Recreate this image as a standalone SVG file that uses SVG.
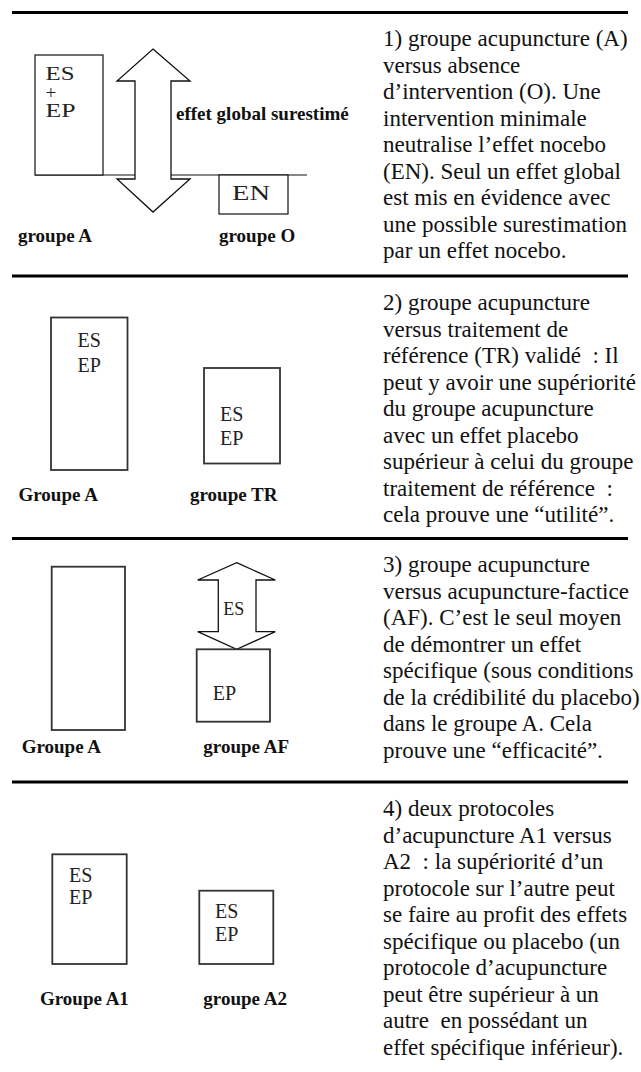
<svg xmlns="http://www.w3.org/2000/svg" width="641" height="1072" viewBox="0 0 641 1072">
<style>
.rule{stroke:#000;stroke-width:3;fill:none}
.box{fill:#fff;stroke:#333;stroke-width:1.8}
.box1{fill:#fff;stroke:#111;stroke-width:1.2}
.arrow{fill:#fff;stroke:#111;stroke-width:1.3;stroke-linejoin:miter}
.lbl{font-family:"Liberation Serif","Times New Roman",serif;font-weight:bold;font-size:19px;fill:#111}
.in{font-family:"Liberation Serif","Times New Roman",serif;font-size:20px;fill:#222}
.desc{font-family:"Liberation Serif","Times New Roman",serif;font-size:23px;fill:#111}
</style>
<rect width="641" height="1072" fill="#fff"/>
<g id="rules">
<line class="rule" x1="12" y1="12.5" x2="628" y2="12.5"/>
<line class="rule" x1="12" y1="276" x2="628" y2="276"/>
<line class="rule" x1="12" y1="538.5" x2="628" y2="538.5"/>
<line class="rule" x1="12" y1="782" x2="628" y2="782"/>
</g>
<g id="section1">
<line x1="35" y1="175" x2="307" y2="175" stroke="#111" stroke-width="1.2"/>
<g id="box-A1">
<rect class="box1" x="35" y="55" width="68" height="120"/>
<text class="in" x="45.5" y="80" style="font-size:19px" textLength="29" lengthAdjust="spacingAndGlyphs">ES</text>
<text class="in" x="45.5" y="98.5" style="font-size:19px">+</text>
<text class="in" x="45.5" y="117" style="font-size:19px" textLength="30" lengthAdjust="spacingAndGlyphs">EP</text>
</g>
<g id="box-EN">
<rect class="box1" x="219" y="175" width="69" height="39"/>
<text class="in" x="232" y="200" textLength="38" lengthAdjust="spacingAndGlyphs">EN</text>
</g>
<text class="lbl" x="176" y="120">effet global surestimé</text>
<text class="lbl" x="18" y="242">groupe A</text>
<text class="lbl" x="219" y="242">groupe O</text>
</g>
<g id="connectors">
<polygon class="arrow" points="153,49 190,81 171,81 171,179 190,179 153,212 117,179 135,179 135,81 117,81"/>
<polygon class="arrow" points="236.7,562.7 275.3,580 256,580 256,631.7 275.3,631.7 236.7,649.3 197.7,631.7 218.3,631.7 218.3,580 197.7,580"/>
</g>
<g id="section2">
<g id="box-A2">
<rect class="box" x="51" y="317.5" width="76.5" height="152.5"/>
<text class="in" x="77.5" y="347">ES</text>
<text class="in" x="77.5" y="371.5">EP</text>
</g>
<g id="box-TR">
<rect class="box" x="204" y="368" width="76" height="95.5"/>
<text class="in" x="220" y="421">ES</text>
<text class="in" x="220" y="445">EP</text>
</g>
<text class="lbl" x="18.5" y="501">Groupe A</text>
<text class="lbl" x="190" y="501">groupe TR</text>
</g>
<g id="section3">
<g id="box-A3">
<rect class="box" x="51.7" y="566.7" width="73.3" height="163.3"/>
</g>
<text class="in" x="223.3" y="615" style="font-size:18px">ES</text>
<g id="box-AF">
<rect class="box" x="196.7" y="649.3" width="73.3" height="72.4"/>
<text class="in" x="212.7" y="700">EP</text>
</g>
<text class="lbl" x="21.7" y="753">Groupe A</text>
<text class="lbl" x="203.3" y="753">groupe AF</text>
</g>
<g id="section4">
<g id="box-A1p">
<rect class="box" x="52.3" y="854.3" width="74.4" height="109.7"/>
<text class="in" x="69" y="881.5">ES</text>
<text class="in" x="69" y="904">EP</text>
</g>
<g id="box-A2p">
<rect class="box" x="199.3" y="890.7" width="74" height="73.3"/>
<text class="in" x="215" y="918">ES</text>
<text class="in" x="215" y="940.5">EP</text>
</g>
<text class="lbl" x="40" y="1005">Groupe A1</text>
<text class="lbl" x="203.3" y="1005">groupe A2</text>
</g>
<g id="text1" class="desc">
<text x="383" y="46">1) groupe acupuncture (A)</text>
<text x="383" y="72.5">versus absence</text>
<text x="383" y="99">d’intervention (O). Une</text>
<text x="383" y="125.5">intervention minimale</text>
<text x="383" y="152">neutralise l’effet nocebo</text>
<text x="383" y="178.5">(EN). Seul un effet global</text>
<text x="383" y="205">est mis en évidence avec</text>
<text x="383" y="231.5">une possible surestimation</text>
<text x="383" y="258">par un effet nocebo.</text>
</g>
<g id="text2" class="desc">
<text x="383" y="310">2) groupe acupuncture</text>
<text x="383" y="336.5">versus traitement de</text>
<text x="383" y="363">référence (TR) validé&#160; : Il</text>
<text x="383" y="389.5">peut y avoir une supériorité</text>
<text x="383" y="416">du groupe acupuncture</text>
<text x="383" y="442.5">avec un effet placebo</text>
<text x="383" y="469">supérieur à celui du groupe</text>
<text x="383" y="495.5">traitement de référence&#160; :</text>
<text x="383" y="522">cela prouve une “utilité”.</text>
</g>
<g id="text3" class="desc">
<text x="383" y="572">3) groupe acupuncture</text>
<text x="383" y="598.5">versus acupuncture-factice</text>
<text x="383" y="625">(AF). C’est le seul moyen</text>
<text x="383" y="651.5">de démontrer un effet</text>
<text x="383" y="678">spécifique (sous conditions</text>
<text x="383" y="704.5">de la crédibilité du placebo)</text>
<text x="383" y="731">dans le groupe A. Cela</text>
<text x="383" y="757.5">prouve une “efficacité”.</text>
</g>
<g id="text4" class="desc">
<text x="383" y="816">4) deux protocoles</text>
<text x="383" y="842.5">d’acupuncture A1 versus</text>
<text x="383" y="869">A2&#160; : la supériorité d’un</text>
<text x="383" y="895.5">protocole sur l’autre peut</text>
<text x="383" y="922">se faire au profit des effets</text>
<text x="383" y="948.5">spécifique ou placebo (un</text>
<text x="383" y="975">protocole d’acupuncture</text>
<text x="383" y="1001.5">peut être supérieur à un</text>
<text x="383" y="1028">autre&#160; en possédant un</text>
<text x="383" y="1054.5">effet spécifique inférieur).</text>
</g>
</svg>
